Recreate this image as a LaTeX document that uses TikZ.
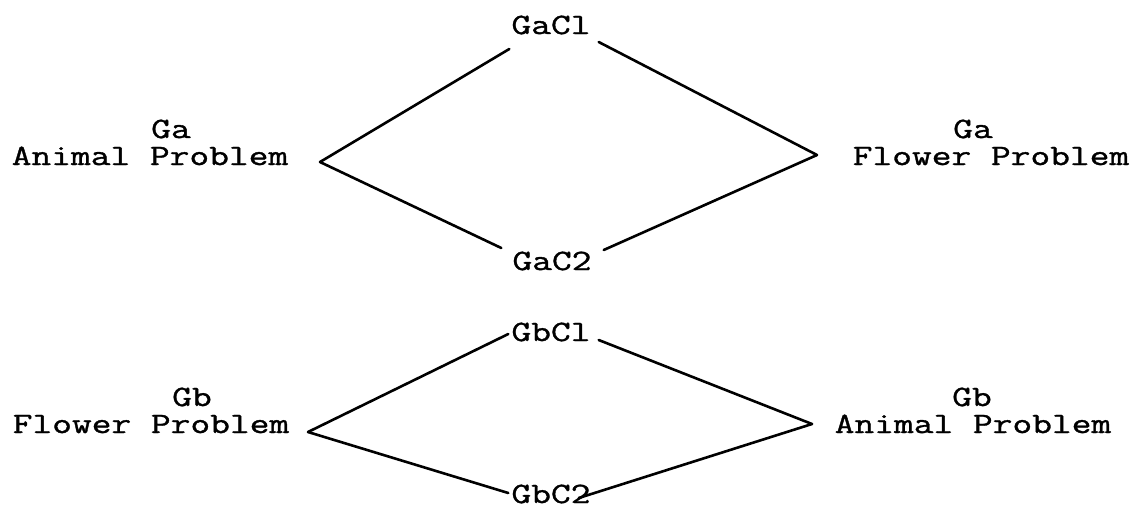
\documentclass[tikz,border=0pt]{standalone}
\usepackage{fontspec}
\newfontfamily\tw[FakeStretch=1.3,FakeBold=1.2]{Latin Modern Mono}
\begin{document}
\begin{tikzpicture}[x=1pt,y=-1pt,
  lbl/.style={font=\tw\fontsize{29.5}{36}\selectfont, inner sep=0pt, anchor=base},
  edge/.style={line width=2.6pt, line cap=round, line join=round}]
\useasboundingbox[fill=white] (0,0) rectangle (1137,504);
% upper group
\node[lbl] (gac1) at (551,34) {GaCl};
\node[lbl] (gac2) at (552,270) {GaC2};
\node[lbl] (gaLhead) at (171,138) {Ga};
\node[lbl] (gaL) at (150,165) {Animal Problem};
\node[lbl] (gaRhead) at (973,138) {Ga};
\node[lbl] (gaR) at (991,165) {Flower Problem};
\coordinate (vAL) at (320,162);
\coordinate (vAR) at (817,155);
\draw[edge] (vAL) -- ([shift={(-2pt,-15pt)}]gac1.base west);
\draw[edge] ([shift={(8pt,-8pt)}]gac1.base east) -- (vAR);
\draw[edge] (vAL) -- ([shift={(-11pt,22pt)}]gac2.base west);
\draw[edge] (vAR) -- ([shift={(12pt,20pt)}]gac2.base east);
% lower group
\node[lbl] (gbc1) at (551,341) {GbCl};
\node[lbl] (gbc2) at (551,503) {GbC2};
\node[lbl] (gbLhead) at (192,406) {Gb};
\node[lbl] (gbL) at (151,433) {Flower Problem};
\node[lbl] (gbRhead) at (972,406) {Gb};
\node[lbl] (gbR) at (973,433) {Animal Problem};
\coordinate (vBL) at (308,432);
\coordinate (vBR) at (812,424);
\draw[edge] (vBL) -- ([shift={(-3pt,7pt)}]gbc1.base west);
\draw[edge] ([shift={(8pt,1pt)}]gbc1.base east) -- (vBR);
\draw[edge] (vBL) -- ([shift={(-3pt,10pt)}]gbc2.base west);
\draw[edge] (vBR) -- ([shift={(-12pt,5pt)}]gbc2.base east);
\end{tikzpicture}
\end{document}
